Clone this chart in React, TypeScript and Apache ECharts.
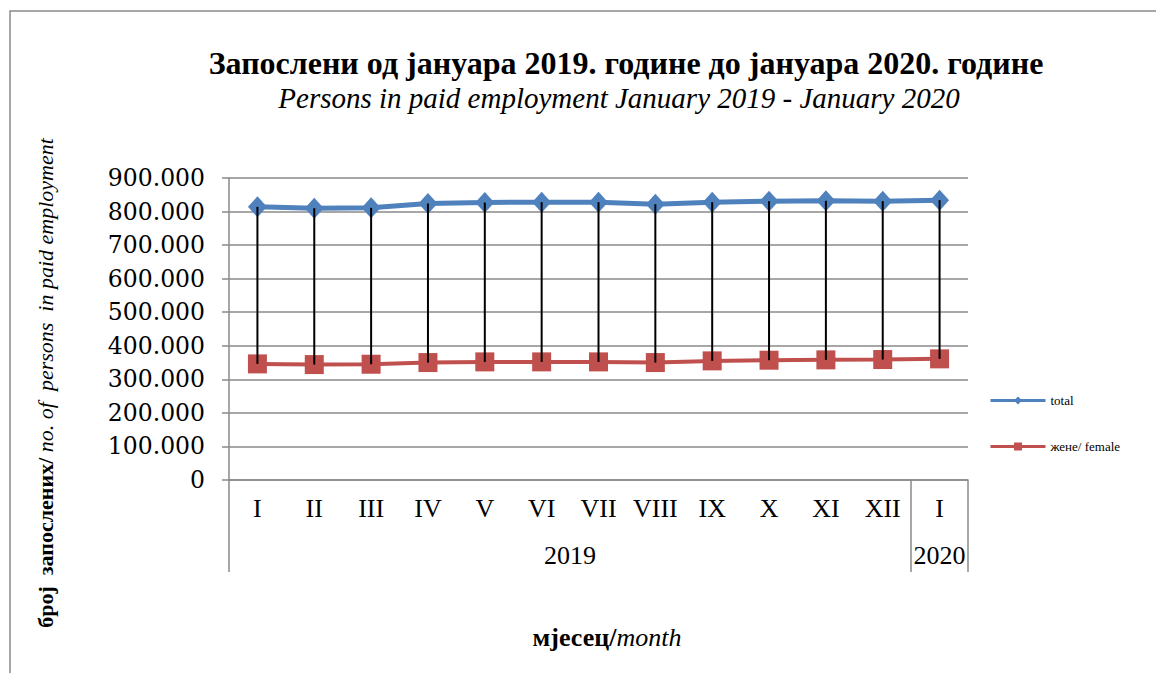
import React, { useEffect, useRef } from "react";
import * as echarts from "echarts";

const months = ["I", "II", "III", "IV", "V", "VI", "VII", "VIII", "IX", "X", "XI", "XII", "I"];
const total = [814000, 810000, 811000, 824000, 827000, 828000, 828000, 822000, 828000, 831000, 832000, 831000, 834000];
const female = [346000, 344000, 345000, 350000, 352000, 352000, 352000, 350000, 355000, 357000, 358000, 359000, 361000];
const yearLabels = ["2019", "2020"];
const yearCenters = [6, 12.5];
const yearBounds = [0, 12, 13];

const titleText = "Запослени од јануара 2019. године до јануара 2020. године";
const subtitleText = "Persons in paid employment January 2019 - January 2020";

const fmt = (v: number) => {
  if (v === 0) return "0";
  const s = String(Math.round(v));
  return s.replace(/\B(?=(\d{3})+(?!\d))/g, ".");
};

export default function App() {
  const ref = useRef<HTMLDivElement>(null);
  useEffect(() => {
    if (!ref.current) return;
    const chart = echarts.init(ref.current, undefined, { renderer: "svg" });
    const gray = "#8a8a8a";
    const serif = "Liberation Serif";
    chart.setOption({
      animation: false,
      backgroundColor: "#fff",
      grid: { left: 229, right: 188, top: 178, bottom: 193, containLabel: false },
      legend: {
        data: ["total", "жене/ female"],
        orient: "vertical",
        left: 984,
        top: 389,
        itemGap: 33,
        itemWidth: 55,
        itemHeight: 10,
        lineStyle: { width: 3 },
        textStyle: { fontFamily: serif, fontSize: 13, color: "#000" },
      },
      xAxis: [
        {
          type: "category",
          data: months,
          boundaryGap: true,
          axisLine: { show: true, lineStyle: { color: gray, width: 1.5 } },
          axisTick: { show: false },
          axisLabel: { margin: 15, fontFamily: serif, fontSize: 26, color: "#000", interval: 0 },
        },
        {
          type: "value",
          min: 0,
          max: 13,
          position: "bottom",
          splitLine: { show: false },
          axisLine: { show: false },
          axisTick: {
            show: true,
            length: 92,
            customValues: yearBounds,
            lineStyle: { color: gray, width: 1.5 },
          },
          axisLabel: {
            show: true,
            margin: 62,
            customValues: yearCenters,
            fontFamily: serif,
            fontSize: 26,
            color: "#000",
            formatter: (v: number) => {
              const i = yearCenters.indexOf(v);
              return i >= 0 ? yearLabels[i] : "";
            },
          },
        },
      ],
      yAxis: {
        type: "value",
        min: 0,
        max: 900000,
        interval: 100000,
        axisLine: { show: true, lineStyle: { color: gray, width: 1.5 } },
        axisTick: { show: true, length: 7, lineStyle: { color: gray, width: 1.5 } },
        splitLine: { show: true, lineStyle: { color: gray, width: 1.5 } },
        axisLabel: {
          margin: 24,
          fontFamily: "DejaVu Serif",
          fontSize: 23.5,
          color: "#000",
          formatter: fmt,
        },
      },
      graphic: [
        {
          type: "rect",
          silent: true,
          shape: { x: 10, y: 11, width: 1300, height: 800 },
          style: { fill: "none", stroke: gray, lineWidth: 1.5 },
          z: -10,
        },
        {
          type: "text",
          x: 626,
          y: 63,
          style: {
            text: titleText,
            fontFamily: serif,
            fontWeight: "bold",
            fontSize: 32,
            fill: "#000",
            align: "center",
            verticalAlign: "middle",
          },
        },
        {
          type: "text",
          x: 619,
          y: 98,
          style: {
            text: subtitleText,
            fontFamily: serif,
            fontStyle: "italic",
            fontSize: 29,
            fill: "#000",
            align: "center",
            verticalAlign: "middle",
          },
        },
        {
          type: "text",
          x: 45,
          y: 383,
          rotation: Math.PI / 2,
          style: {
            text: "{b|број  запослених/ }{i|no. of  persons  in paid employment}",
            align: "center",
            verticalAlign: "middle",
            rich: {
              b: { fontFamily: serif, fontWeight: "bold", fontSize: 22, fill: "#000" },
              i: { fontFamily: serif, fontStyle: "italic", fontSize: 22, fill: "#000" },
            },
          },
        },
        {
          type: "text",
          x: 607,
          y: 637,
          style: {
            text: "{b|мјесец/}{i|month}",
            align: "center",
            verticalAlign: "middle",
            rich: {
              b: { fontFamily: serif, fontWeight: "bold", fontSize: 26, fill: "#000" },
              i: { fontFamily: serif, fontStyle: "italic", fontSize: 26, fill: "#000" },
            },
          },
        },
      ],
      series: [
        {
          name: "total",
          type: "line",
          data: total,
          symbol: "diamond",
          symbolSize: [19, 21],
          lineStyle: { color: "#4F81BD", width: 5 },
          itemStyle: { color: "#4F81BD" },
          z: 2,
        },
        {
          name: "жене/ female",
          type: "line",
          data: female,
          symbol: "rect",
          symbolSize: 19,
          lineStyle: { color: "#C0504D", width: 4 },
          itemStyle: { color: "#C0504D" },
          z: 2,
        },
        {
          name: "hilo",
          type: "custom",
          xAxisIndex: 0,
          data: months.map((_, i) => [i, female[i], total[i]]),
          encode: { x: 0, y: [1, 2] },
          z: 5,
          renderItem: (_params: any, api: any) => {
            const lo = api.coord([api.value(0), api.value(1)]);
            const hi = api.coord([api.value(0), api.value(2)]);
            return {
              type: "line",
              shape: { x1: lo[0], y1: lo[1], x2: hi[0], y2: hi[1] },
              style: { stroke: "#000", lineWidth: 2 },
            };
          },
        },
      ],
    });
    return () => chart.dispose();
  }, []);
  return (
    <div
      ref={ref}
      style={{ position: "fixed", left: 0, top: 0, width: 1156, height: 673 }}
    />
  );
}
